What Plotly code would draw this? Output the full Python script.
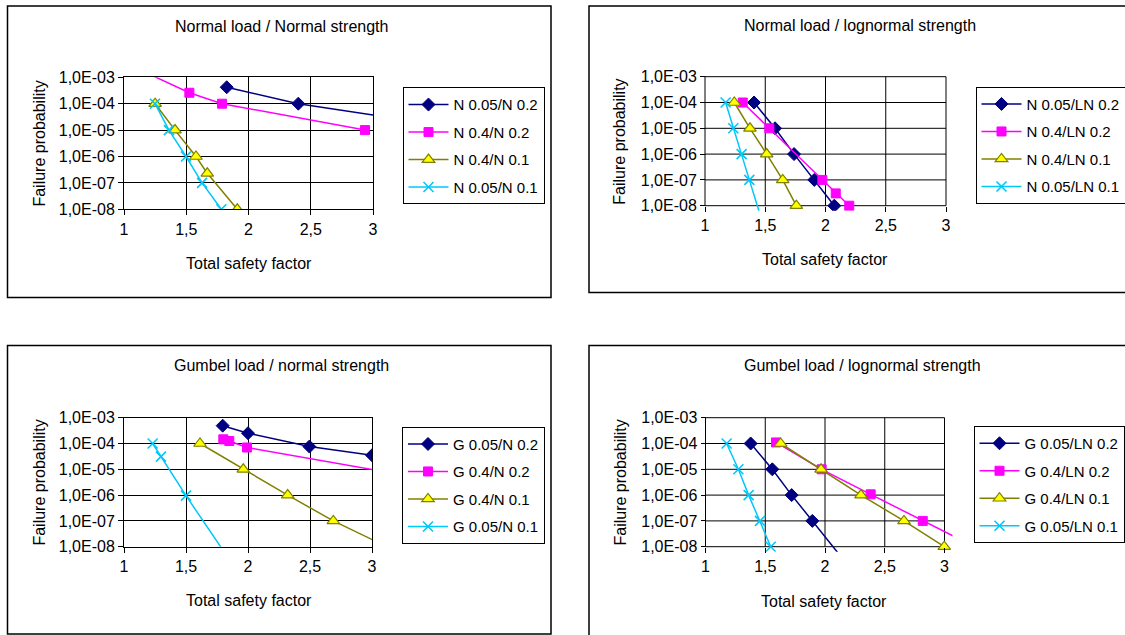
import math
import plotly.graph_objects as go

W, H = 1125, 635
FONT = "Liberation Sans, Arial, sans-serif"

# ---- Total safety factor (x) and failure probability (y) per case ----
# Normal load / Normal strength
nn_n005_n02_x = [1.825, 2.40, 3.80]
nn_n005_n02_y = [4.2e-4, 1.0e-4, 1.0e-5]
nn_n04_n02_x = [1.11, 1.525, 1.787, 2.936]
nn_n04_n02_y = [2.1e-3, 2.6e-4, 1.0e-4, 1.0e-5]
nn_n04_n01_x = [1.25, 1.41, 1.578, 1.669, 1.91]
nn_n04_n01_y = [1e-4, 1e-5, 1e-6, 2.3e-7, 1e-8]
nn_n005_n01_x = [1.249, 1.361, 1.498, 1.627, 1.782]
nn_n005_n01_y = [1e-4, 1e-5, 1e-6, 1e-7, 1e-8]

# Normal load / lognormal strength
nl_n005_ln02_x = [1.407, 1.581, 1.739, 1.907, 2.073]
nl_n005_ln02_y = [1e-4, 1e-5, 1e-6, 1e-7, 1e-8]
nl_n04_ln02_x = [1.313, 1.534, 1.974, 2.085, 2.197]
nl_n04_ln02_y = [1e-4, 1e-5, 1e-7, 3e-8, 1e-8]
nl_n04_ln01_x = [1.243, 1.373, 1.512, 1.645, 1.758]
nl_n04_ln01_y = [1e-4, 1e-5, 1e-6, 1e-7, 1e-8]
nl_n005_ln01_x = [1.171, 1.235, 1.304, 1.368, 1.50]
nl_n005_ln01_y = [1e-4, 1e-5, 1e-6, 1e-7, 1e-9]

# Gumbel load / normal strength
gn_g005_n02_x = [1.796, 2.0, 2.495, 3.0]
gn_g005_n02_y = [4.9e-4, 2.5e-4, 7.6e-5, 3.5e-5]
gn_g04_n02_x = [1.801, 1.849, 1.992, 3.5]
gn_g04_n02_y = [1.45e-4, 1.25e-4, 7.0e-5, 3.7e-6]
gn_g04_n01_x = [1.613, 1.962, 2.32, 2.688, 3.12]
gn_g04_n01_y = [1e-4, 1e-5, 1e-6, 1e-7, 1e-8]
gn_g005_n01_x = [1.231, 1.298, 1.50, 1.92]
gn_g005_n01_y = [1e-4, 3.1e-5, 9.5e-7, 1e-9]

# Gumbel load / lognormal strength
gl_g005_ln02_x = [1.378, 1.559, 1.721, 1.894, 2.24]
gl_g005_ln02_y = [1e-4, 1e-5, 1e-6, 1e-7, 1e-9]
gl_g04_ln02_x = [1.59, 1.972, 2.382, 2.818, 3.25]
gl_g04_ln02_y = [1.1e-4, 1e-5, 1.07e-6, 1e-7, 1e-8]
gl_g04_ln01_x = [1.629, 1.967, 2.301, 2.661, 2.998]
gl_g04_ln01_y = [1e-4, 1e-5, 1e-6, 1e-7, 1e-8]
gl_g005_ln01_x = [1.177, 1.275, 1.361, 1.456, 1.546]
gl_g005_ln01_y = [1e-4, 1e-5, 1e-6, 1e-7, 1e-8]

# Axis ticks
X_TICK_VALS = [1, 1.5, 2, 2.5, 3]
X_TICK_TEXT = ["1", "1,5", "2", "2,5", "3"]
Y_TICK_VALS = [1e-8, 1e-7, 1e-6, 1e-5, 1e-4, 1e-3]
Y_TICK_TEXT = ["1,0E-08", "1,0E-07", "1,0E-06", "1,0E-05", "1,0E-04", "1,0E-03"]
X_RANGE = [1, 3]
Y_RANGE = [-8, -3]  # log10

# Series look: navy diamonds, magenta squares, olive/yellow triangles, cyan crosses
STYLES = [
    dict(line="#000080", symbol="diamond", size=10, fill="#000080", edge="#000080", ew=1),
    dict(line="#FF00FF", symbol="square", size=9, fill="#FF00FF", edge="#FF00FF", ew=1),
    dict(line="#808000", symbol="triangle-up", size=11, fill="#FFFF00", edge="#808000", ew=1.2),
    dict(line="#00C8FA", symbol="x-thin-open", size=10, fill="#00C8FA", edge="#00C8FA", ew=1.6),
]

PANELS = [
    dict(title="Normal load / Normal strength",
         names=["N 0.05/N 0.2", "N 0.4/N 0.2", "N 0.4/N 0.1", "N 0.05/N 0.1"],
         series=[(nn_n005_n02_x, nn_n005_n02_y), (nn_n04_n02_x, nn_n04_n02_y),
                 (nn_n04_n01_x, nn_n04_n01_y), (nn_n005_n01_x, nn_n005_n01_y)],
         frame=(124, 373, 77.3, 209.3), box=(7.5, 551, 6, 297.5),
         title_xy=(281, 26.7), ytitle_xy=(38.6, 144), xtitle_xy=(249, 263.3),
         legend_xy=(402.5, 87.3), padded=False),
    dict(title="Normal load / lognormal strength",
         names=["N 0.05/LN 0.2", "N 0.4/LN 0.2", "N 0.4/LN 0.1", "N 0.05/LN 0.1"],
         series=[(nl_n005_ln02_x, nl_n005_ln02_y), (nl_n04_ln02_x, nl_n04_ln02_y),
                 (nl_n04_ln01_x, nl_n04_ln01_y), (nl_n005_ln01_x, nl_n005_ln01_y)],
         frame=(705, 946, 76.7, 205.7), box=(589, 1140, 6, 292.5),
         title_xy=(860, 25.7), ytitle_xy=(620, 141.7), xtitle_xy=(825, 259.3),
         legend_xy=(975.5, 86.7), padded=True),
    dict(title="Gumbel load / normal strength",
         names=["G 0.05/N 0.2", "G 0.4/N 0.2", "G 0.4/N 0.1", "G 0.05/N 0.1"],
         series=[(gn_g005_n02_x, gn_g005_n02_y), (gn_g04_n02_x, gn_g04_n02_y),
                 (gn_g04_n01_x, gn_g04_n01_y), (gn_g005_n01_x, gn_g005_n01_y)],
         frame=(124, 372, 417.7, 546.7), box=(7.5, 551, 345.5, 634),
         title_xy=(281, 365.7), ytitle_xy=(38.6, 483), xtitle_xy=(249, 600),
         legend_xy=(402, 426.7), padded=False),
    dict(title="Gumbel load / lognormal strength",
         names=["G 0.05/LN 0.2", "G 0.4/LN 0.2", "G 0.4/LN 0.1", "G 0.05/LN 0.1"],
         series=[(gl_g005_ln02_x, gl_g005_ln02_y), (gl_g04_ln02_x, gl_g04_ln02_y),
                 (gl_g04_ln01_x, gl_g04_ln01_y), (gl_g005_ln01_x, gl_g005_ln01_y)],
         frame=(705.5, 944.5, 417.7, 546.7), box=(589, 1140, 345.5, 640),
         title_xy=(862, 365.7), ytitle_xy=(620, 482.5), xtitle_xy=(824, 601.7),
         legend_xy=(973.5, 426), padded=True),
]

# padded panels let their lines run a few pixels past the framed axes
PAD_L, PAD_R, PAD_T, PAD_B = 6, 8, 4, 5
GRID = dict(color="#000000", width=1)


def px_x(v):
    return v / W


def px_y(v):
    return 1 - v / H


fig = go.Figure()
layout = dict(
    width=W, height=H,
    margin=dict(l=0, r=0, t=0, b=0, autoexpand=False),
    paper_bgcolor="white", plot_bgcolor="white",
    font=dict(family=FONT, size=16, color="black"),
    hovermode=False,
    annotations=[], shapes=[],
)

for i, p in enumerate(PANELS):
    k = i + 1
    sid = "" if k == 1 else str(k)
    fx0, fx1, fy0, fy1 = p["frame"]
    xpu = (fx1 - fx0) / (X_RANGE[1] - X_RANGE[0])
    ypu = (fy1 - fy0) / (Y_RANGE[1] - Y_RANGE[0])
    xr, yr = "x" + sid, "y" + sid
    tick_common = dict(ticks="outside", ticklen=5, tickcolor="black", tickwidth=1,
                       fixedrange=True, zeroline=False,
                       tickfont=dict(size=16, family=FONT, color="black"))

    if p["padded"]:
        xrng = [X_RANGE[0] - PAD_L / xpu, X_RANGE[1] + PAD_R / xpu]
        yrng = [Y_RANGE[0] - PAD_B / ypu, Y_RANGE[1] + PAD_T / ypu]
        layout["xaxis" + sid] = dict(
            domain=[px_x(fx0 - PAD_L), px_x(fx1 + PAD_R)], range=xrng,
            anchor="free", position=px_y(fy1),
            tickmode="array", tickvals=X_TICK_VALS, ticktext=X_TICK_TEXT,
            showgrid=False, showline=False, **tick_common)
        layout["yaxis" + sid] = dict(
            domain=[px_y(fy1 + PAD_B), px_y(fy0 - PAD_T)], type="log", range=yrng,
            anchor="free", position=px_x(fx0),
            tickmode="array", tickvals=Y_TICK_VALS, ticktext=Y_TICK_TEXT,
            showgrid=False, showline=False, **tick_common)

        # grid / frame lines, placed in domain fractions of the padded area
        def fx(v, r=xrng):
            return (v - r[0]) / (r[1] - r[0])

        def fy(v, r=yrng):
            return (math.log10(v) - r[0]) / (r[1] - r[0])

        for xv in X_TICK_VALS:
            layout["shapes"].append(dict(
                type="line", xref=xr + " domain", yref=yr + " domain",
                x0=fx(xv), x1=fx(xv), y0=fy(Y_TICK_VALS[0]), y1=fy(Y_TICK_VALS[-1]),
                line=GRID, layer="below"))
        for yv in Y_TICK_VALS:
            layout["shapes"].append(dict(
                type="line", xref=xr + " domain", yref=yr + " domain",
                x0=fx(X_TICK_VALS[0]), x1=fx(X_TICK_VALS[-1]), y0=fy(yv), y1=fy(yv),
                line=GRID, layer="below"))
    else:
        layout["xaxis" + sid] = dict(
            domain=[px_x(fx0), px_x(fx1)], range=X_RANGE, anchor=yr,
            tickmode="array", tickvals=X_TICK_VALS, ticktext=X_TICK_TEXT,
            showgrid=True, gridcolor="black", gridwidth=1,
            showline=True, linecolor="black", linewidth=1, mirror=True, **tick_common)
        layout["yaxis" + sid] = dict(
            domain=[px_y(fy1), px_y(fy0)], type="log", range=Y_RANGE, anchor=xr,
            tickmode="array", tickvals=Y_TICK_VALS, ticktext=Y_TICK_TEXT,
            showgrid=True, gridcolor="black", gridwidth=1,
            showline=True, linecolor="black", linewidth=1, mirror=True, **tick_common)

    lg = "legend" + sid
    lx, ly = p["legend_xy"]
    layout[lg] = dict(
        x=px_x(lx), y=px_y(ly), xanchor="left", yanchor="top",
        bgcolor="white", bordercolor="black", borderwidth=1,
        font=dict(family=FONT, size=15, color="black"),
        itemwidth=40, tracegroupgap=5, traceorder="grouped",
        itemclick=False, itemdoubleclick=False,
    )

    for j, ((xs, ys), name, st) in enumerate(zip(p["series"], p["names"], STYLES)):
        fig.add_trace(go.Scatter(
            x=xs, y=ys, name=name, mode="lines+markers",
            xaxis=xr, yaxis=yr, legend=lg,
            legendgroup=f"p{k}s{j}",
            line=dict(color=st["line"], width=1.5),
            marker=dict(symbol=st["symbol"], size=st["size"], color=st["fill"],
                        line=dict(color=st["edge"], width=st["ew"])),
        ))

    bx0, bx1, by0, by1 = p["box"]
    layout["shapes"].append(dict(
        type="rect", xref="paper", yref="paper",
        x0=px_x(bx0), x1=px_x(bx1), y0=px_y(by1), y1=px_y(by0),
        line=dict(color="black", width=1.5), layer="below",
    ))

    tx, ty = p["title_xy"]
    layout["annotations"].append(dict(
        text=p["title"], x=px_x(tx), y=px_y(ty), xref="paper", yref="paper",
        xanchor="center", yanchor="middle", showarrow=False,
        font=dict(family=FONT, size=16, color="black"),
    ))
    ax_, ay_ = p["xtitle_xy"]
    layout["annotations"].append(dict(
        text="Total safety factor", x=px_x(ax_), y=px_y(ay_), xref="paper", yref="paper",
        xanchor="center", yanchor="middle", showarrow=False,
        font=dict(family=FONT, size=16, color="black"),
    ))
    yx_, yy_ = p["ytitle_xy"]
    layout["annotations"].append(dict(
        text="Failure probability", x=px_x(yx_), y=px_y(yy_), xref="paper", yref="paper",
        xanchor="center", yanchor="middle", showarrow=False, textangle=-90,
        font=dict(family=FONT, size=16, color="black"),
    ))

fig.update_layout(**layout)
fig.write_html("out.html")
